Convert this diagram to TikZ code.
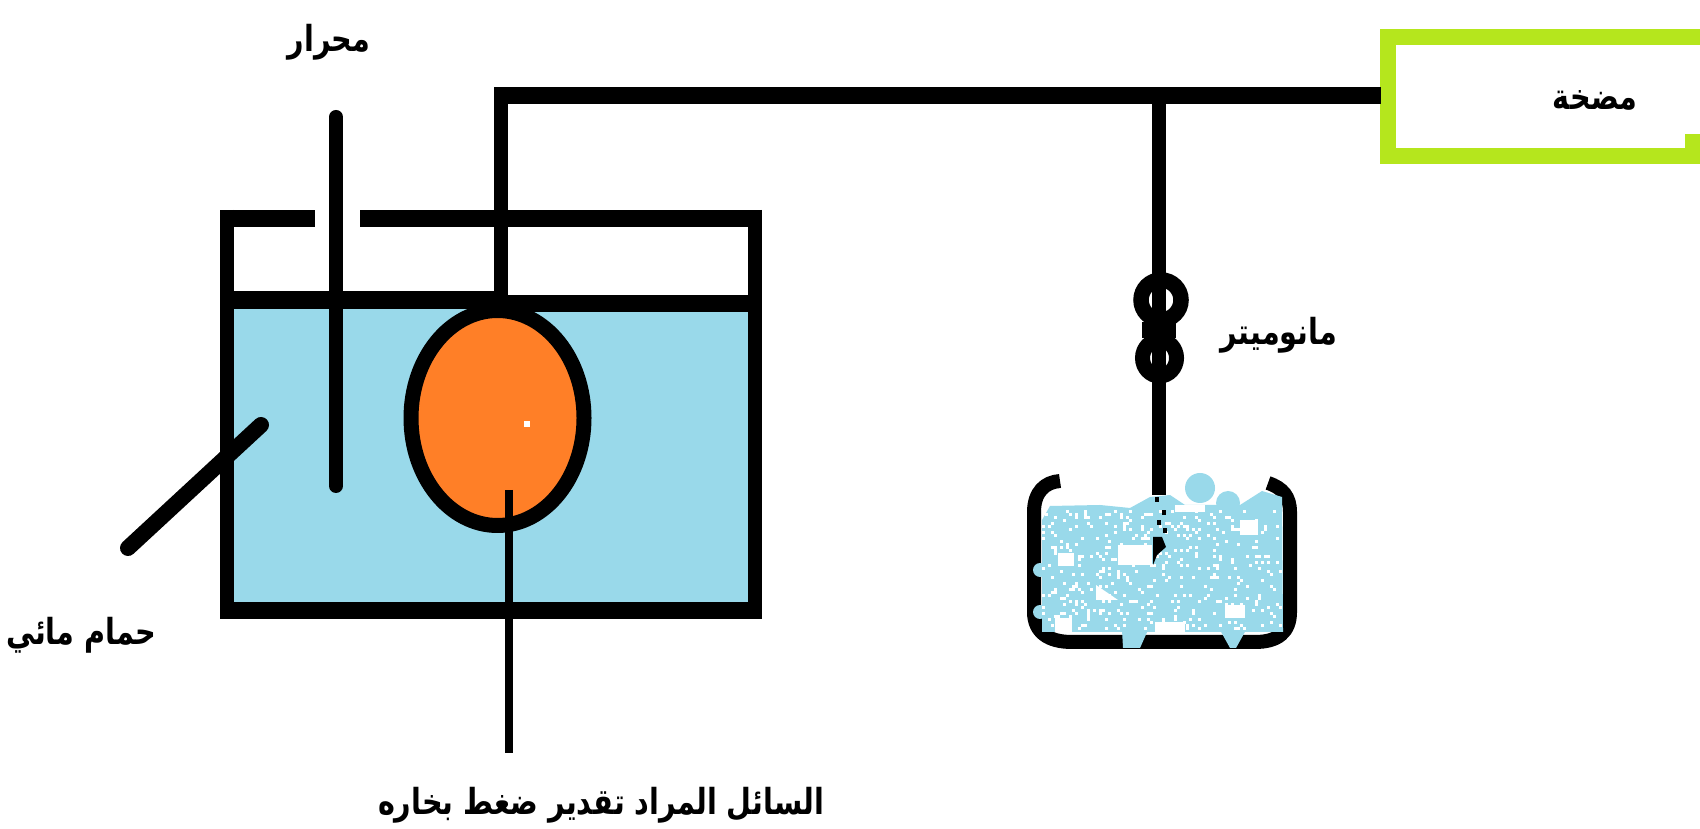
\documentclass[tikz,border=0pt]{standalone}
\usepackage{fontspec}
\usepackage{tikz}
\usetikzlibrary{positioning,calc}
\TeXXeTstate=1
\newfontfamily\arabicfont[Script=Arabic,FakeStretch=0.8]{DejaVu Sans}
\definecolor{waterblue}{HTML}{99D9EA}
\definecolor{liquidorange}{HTML}{FF7F27}
\definecolor{pumpgreen}{HTML}{B5E61D}

\begin{document}
\begin{tikzpicture}[x=0.1mm,y=-0.1mm,
        wallv/.style={draw=black,line width=1.4mm},
        wallh/.style={draw=black,line width=1.7mm},
        stem/.style={draw=black,line width=1.4mm,line cap=round},
        greenwall/.style={draw=pumpgreen,line width=1.6mm},
        lbl/.style={inner sep=0pt,font=\arabicfont\bfseries\fontsize{10.2}{12}\selectfont}]
      \useasboundingbox (0,0) rectangle (1700,829);
      % water bath
      \fill[waterblue] (234,309) rectangle (748,602);
      \draw[draw=black,line width=1.5mm,fill=liquidorange] (497.5,418) ellipse [x radius=86.5,y radius=107.5];
      \fill[white] (524,421) rectangle (530,427);
      \coordinate (lidl) at (220,218.5);
      \coordinate (lidgapl) at (315,218.5);
      \coordinate (lidgapr) at (360,218.5);
      \coordinate (lidr) at (762,218.5);
      \draw[wallh] (lidl) -- (lidgapl);
      \draw[wallh] (lidgapr) -- (lidr);
      \draw[wallv] (227,210) -- (227,619);
      \draw[wallv] (755,210) -- (755,619);
      \draw[wallh] (220,610.5) -- (762,610.5);
      \draw[line width=1.8mm] (220,300) -- (501,300);
      \draw[wallh] (501,303.5) -- (762,303.5);
      % thermometer and pointers
      \draw[stem] (336,117) -- (336,486);
      \draw[stem,line width=1.6mm] (128,548) -- (261,425);
      \draw[line width=0.8mm] (509,490) -- (509,753);
      % pump
      \draw[greenwall] (1700,37) -- (1388,37) -- (1388,156.5) -- (1700,156.5);
      \fill[pumpgreen] (1685,134) rectangle (1700,150);
      % pipes
      \coordinate (tubetop) at (501,95.5);
      \coordinate (tubeend) at (501,300);
      \coordinate (pumpin) at (1381,95.5);
      \coordinate (tee) at (1159,95.5);
      \coordinate (stemend) at (1159,495);
      \draw[wallv] (tubeend) -- ($(tubetop)+(0,-8.5)$);
      \draw[wallh] ($(tubetop)+(-7,0)$) -- (pumpin);
      \draw[wallv] (tee) -- (stemend);
      % manometer
      \fill[black] (1142,322) rectangle (1176,338);
      \draw[draw=black,line width=1.55mm,fill=white] (1161,300) circle [radius=20];
      \draw[draw=black,line width=1.5mm,fill=white] (1159.5,358) ellipse [x radius=17,y radius=18];
      \draw[wallv] (1159,285) -- (1159,375);
      % beaker
      \draw[draw=black,line width=1.4mm] (1060,481) .. controls (1045,482) and (1034,492) .. (1034,512) -- (1034,612)
          .. controls (1034,632) and (1048,642) .. (1072,642) -- (1255,642)
          .. controls (1278,642) and (1290,632) .. (1290,612) -- (1290,512)
          .. controls (1290,497) and (1283,488) .. (1268,483);
      \fill[waterblue] (1042,520) -- (1050,506) -- (1100,505) -- (1130,508) -- (1150,497) -- (1170,495) -- (1185,505)
          -- (1240,505) -- (1262,491) -- (1282,497) -- (1283,632) -- (1042,632) -- cycle;
      \fill[waterblue] (1200,488) circle [radius=15];
      \fill[waterblue] (1228,503) circle [radius=12];
      \fill[waterblue] (1122,630) -- (1148,630) -- (1140,648) -- (1123,648) -- cycle;
      \fill[waterblue] (1220,630) -- (1246,630) -- (1236,648) -- (1230,648) -- cycle;
      \fill[waterblue] (1040,570) circle [radius=7];
      \fill[waterblue] (1040,612) circle [radius=7];
      % white patches
      \fill[white] (1175,505) rectangle (1205,512);
      \fill[white] (1240,520) rectangle (1258,535);
      \fill[white] (1058,553) rectangle (1074,566);
      \fill[white] (1118,545) rectangle (1152,565);
      \fill[white] (1096,585) -- (1118,600) -- (1096,600) -- cycle;
      \fill[white] (1225,605) rectangle (1245,618);
      \fill[white] (1055,618) rectangle (1072,632);
      \fill[white] (1155,622) rectangle (1185,632);
      \pgfmathsetseed{7}
      \foreach \n in {1,...,420}{
        \pgfmathsetmacro{\px}{1042+3*int(80*rnd)}
        \pgfmathsetmacro{\py}{510+3*int(40*rnd)}
        \fill[white] (\px,\py) rectangle ++(3,3);
      }
      % submerged stem end
      \fill[black] (1153,537) -- (1162,537) -- (1166,547) -- (1157,555) -- (1153,565) -- cycle;
      \foreach \dx/\dy in {1155/497,1162/510,1157/520,1163/528}{
        \fill[black] (\dx,\dy) rectangle ++(4,5);
      }
      % labels
      \node[lbl] (thermolbl) at (329,42) {\beginR محرار\endR};
      \node[lbl] (pumplbl) at (1595,100) {\beginR مضخة\endR};
      \node[lbl] (manolbl) at (1279,335) {\beginR مانوميتر\endR};
      \node[lbl] (bathlbl) at (81,635) {\beginR حمام مائي\endR};
      \node[lbl] (liquidlbl) at (601,805) {\beginR السائل المراد تقدير ضغط بخاره\endR};
    \end{tikzpicture}
\end{document}
